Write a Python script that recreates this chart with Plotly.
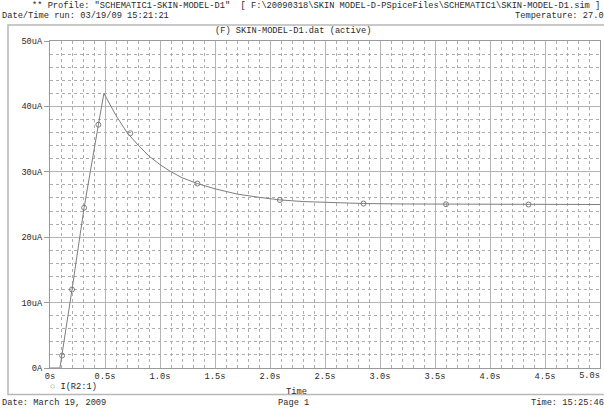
import plotly.graph_objects as go

# ---- data ----
line_time_s = [0.0, 0.09, 0.2, 0.31, 0.44, 0.49, 0.6, 0.7, 0.8, 0.9, 1.0, 1.1, 1.2,
               1.34, 1.5, 1.7, 1.9, 2.09, 2.3, 2.5, 2.85, 3.2, 3.6, 4.0, 4.35, 4.7, 5.0]
line_current_uA = [0.0, 0.0, 12.0, 24.5, 37.2, 42.0, 38.6, 36.0, 34.1, 32.4, 31.1, 30.0, 29.1,
                   28.2, 27.4, 26.6, 26.1, 25.7, 25.45, 25.3, 25.15, 25.08, 25.04, 25.02, 25.0, 25.0, 25.0]
marker_time_s = [0.11, 0.2, 0.31, 0.44, 0.73, 1.34, 2.09, 2.85, 3.6, 4.35]
marker_current_uA = [1.9, 12.0, 24.5, 37.2, 35.9, 28.2, 25.7, 25.15, 25.04, 25.0]

x_tickvals = [0, 0.5, 1.0, 1.5, 2.0, 2.5, 3.0, 3.5, 4.0, 4.5, 5.0]
x_ticktext = ["0s", "0.5s", "1.0s", "1.5s", "2.0s", "2.5s", "3.0s", "3.5s", "4.0s", "4.5s", "5.0s"]
y_tickvals = [0, 10, 20, 30, 40, 50]
y_ticktext = ["0A", "10uA", "20uA", "30uA", "40uA", "50uA"]

trace_name = "I(R2:1)"
header1 = '** Profile: "SCHEMATIC1-SKIN-MODEL-D1"  [ F:\\20090318\\SKIN MODEL-D-PSpiceFiles\\SCHEMATIC1\\SKIN-MODEL-D1.sim ]'
header2_left = "Date/Time run: 03/19/09 15:21:21"
header2_right = "Temperature: 27.0"
plot_title = "(F) SKIN-MODEL-D1.dat (active)"
x_title = "Time"
footer_left = "Date: March 19, 2009"
footer_mid = "Page 1"
footer_right = "Time: 15:25:46"

# ---- layout geometry ----
W, H = 604, 412
L, R, T, B = 50, 4, 41, 43.5
PW, PH = W - L - R, H - T - B


def px(xp):
    return (xp - L) / PW


def py(yp):
    return (H - B - yp) / PH


FONT = "Liberation Mono, DejaVu Sans Mono, monospace"
FS = 8.7
TXT = "#2a2a2a"
TRACE = "#7e7e7e"

fig = go.Figure()
fig.add_trace(go.Scatter(x=line_time_s, y=line_current_uA, mode="lines",
                         line=dict(color=TRACE, width=1), showlegend=False,
                         hoverinfo="skip"))
fig.add_trace(go.Scatter(x=marker_time_s, y=marker_current_uA, mode="markers",
                         marker=dict(symbol="circle-open", size=5, color=TRACE,
                                     line=dict(width=1, color=TRACE)),
                         name=trace_name, showlegend=False))
# empty helper trace so the overlay axis (last tick label, kept inside the page) is drawn
fig.add_trace(go.Scatter(x=[], y=[], xaxis="x2", yaxis="y", showlegend=False,
                         hoverinfo="skip"))

axis_common = dict(showline=True, linecolor="#9a9a9a", linewidth=1, mirror=True,
                   showgrid=True, gridcolor="#b4b4b4", gridwidth=1, zeroline=False,
                   automargin=False,
                   tickfont=dict(family=FONT, size=FS, color=TXT))

fig.update_layout(
    xaxis=dict(range=[0, 5], tickmode="array", tickvals=x_tickvals[:-1],
               ticktext=x_ticktext[:-1], ticks="", ticklen=0,
               minor=dict(dtick=0.1, showgrid=True, griddash="dot", gridcolor="#adadad",
                          gridwidth=1),
               **axis_common),
    xaxis2=dict(range=[0, 5], overlaying="x", anchor="y", side="bottom",
                tickmode="array", tickvals=x_tickvals[-1:], ticktext=x_ticktext[-1:],
                ticklabelposition="outside left", ticks="", showgrid=False,
                showline=False, zeroline=False, automargin=False,
                tickfont=dict(family=FONT, size=FS, color=TXT)),
    yaxis=dict(range=[0, 50], tickmode="array", tickvals=y_tickvals, ticktext=y_ticktext,
               ticks="outside", ticklen=5, tickcolor="#9a9a9a",
               minor=dict(dtick=2, showgrid=True, griddash="dot", gridcolor="#adadad",
                          gridwidth=1),
               **axis_common),
)

ann = []


def add_text(text, xp, yp, xanchor="left", size=FS):
    ann.append(dict(text=text, x=px(xp), y=py(yp), xref="paper", yref="paper",
                    xanchor=xanchor, yanchor="middle", showarrow=False,
                    font=dict(family=FONT, size=size, color=TXT)))


add_text(header1, 30, 6)
add_text(header2_left, 0, 16)
add_text(header2_right, 606, 16, "right")
add_text(plot_title, 293, 31, "center")
add_text(x_title, 296, 393, "center")
add_text(footer_left, 0, 404)
add_text(footer_mid, 293, 404, "center")
add_text(footer_right, 606, 404, "right")
# legend entry of the trace (marker symbol followed by the trace name)
add_text('<span style="color:%s">\u25cb</span> %s' % (TRACE, trace_name), 48, 388)

fig.update_layout(
    width=W, height=H,
    margin=dict(l=L, r=R, t=T, b=B, pad=0, autoexpand=False),
    paper_bgcolor="white", plot_bgcolor="white",
    font=dict(family=FONT, size=FS, color=TXT),
    annotations=ann,
    showlegend=False,
    shapes=[dict(type="rect", xref="paper", yref="paper",
                 x0=px(8), x1=px(612), y0=py(395), y1=py(25),
                 line=dict(color="#b8b8b8", width=1.5), layer="below")],
)

fig.write_html("out.html")
